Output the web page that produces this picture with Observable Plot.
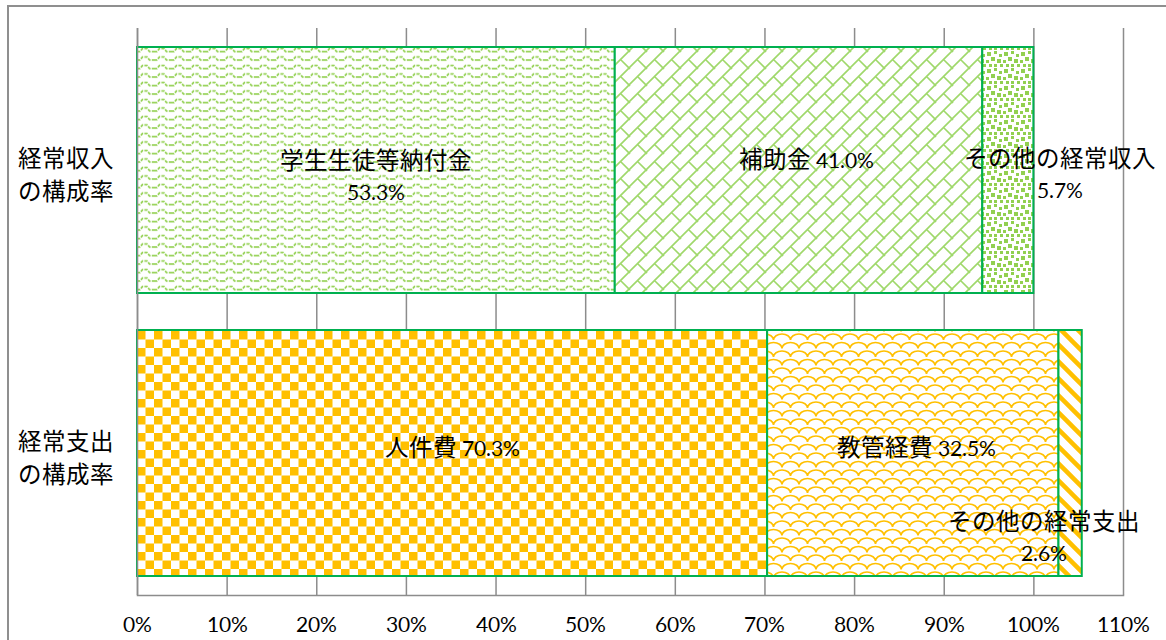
<!DOCTYPE html>
<html><head><meta charset="utf-8">
<script src="https://cdn.jsdelivr.net/npm/d3@7"></script>
<script src="https://cdn.jsdelivr.net/npm/@observablehq/plot@0.6"></script>
<style>
@font-face { font-family: "MixJP"; src: local("Lato Regular"), local("Lato-Regular"), local("Lato"); unicode-range: U+0000-00FF, U+2000-206F; }
@font-face { font-family: "MixJP"; src: local("Noto Sans CJK JP Regular"), local("NotoSansCJKjp-Regular"), local("Noto Sans CJK JP"); size-adjust: 112%; unicode-range: U+3000-9FFF, U+FF00-FFEF; }
html,body{margin:0;padding:0;background:#fff;}
#wrap{position:relative;width:1166px;height:640px;overflow:hidden;}
#border{position:absolute;left:7px;top:5px;width:1200px;height:700px;border:2px solid #8f8f8f;box-sizing:border-box;}
#chart{position:absolute;left:0;top:0;}
</style></head>
<body>
<svg width="0" height="0" style="position:absolute">
<defs>
  <pattern id="pWave" patternUnits="userSpaceOnUse" width="17" height="8.5" x="137" y="46">
    <rect width="17" height="8.5" fill="#fff"/>
    <path d="M0,5.5 H3 L5.5,2.5 H10 L12.5,5.5 H17" stroke="#92D050" stroke-width="1.7" stroke-dasharray="3.2 1.2" fill="none"/>
  </pattern>
  <pattern id="pBrick" patternUnits="userSpaceOnUse" width="17" height="17">
    <rect width="17" height="17" fill="#fff"/>
    <path d="M-2,19 L19,-2 M8.5,8.5 L17,17 M0,0 L1,1" stroke="#9fd86a" stroke-width="1.6" fill="none"/>
  </pattern>
  <pattern id="pConfetti" patternUnits="userSpaceOnUse" width="17" height="17">
    <rect width="17" height="17" fill="#fff"/>
    <g fill="#92D050">
      <rect x="1" y="1" width="4" height="4"/>
      <rect x="8" y="0" width="3" height="3"/>
      <rect x="13" y="3" width="3" height="3"/>
      <rect x="5" y="6" width="4" height="4"/>
      <rect x="0" y="9" width="3" height="3"/>
      <rect x="11" y="8" width="4" height="4"/>
      <rect x="3" y="13" width="3" height="3"/>
      <rect x="8" y="13" width="3" height="3"/>
      <rect x="14" y="13" width="3" height="3"/>
    </g>
  </pattern>
  <pattern id="pChecker" patternUnits="userSpaceOnUse" width="17" height="17" x="137" y="331">
    <rect width="17" height="17" fill="#fff"/>
    <rect x="0" y="0" width="8.5" height="8.5" fill="#FFC000"/>
    <rect x="8.5" y="8.5" width="8.5" height="8.5" fill="#FFC000"/>
  </pattern>
  <pattern id="pShingle" patternUnits="userSpaceOnUse" width="17" height="17">
    <rect width="17" height="17" fill="#fff"/>
    <path d="M0,8.5 A8.5,6 0 0 1 17,8.5 M-8.5,17 A8.5,6 0 0 1 8.5,17 M8.5,17 A8.5,6 0 0 1 25.5,17" stroke="#FFC000" stroke-width="1.6" fill="none"/>
  </pattern>
  <pattern id="pDiag" patternUnits="userSpaceOnUse" width="17" height="17">
    <rect width="17" height="17" fill="#fff"/>
    <path d="M-2,-2 L19,19 M-2,15 L2,19 M15,-2 L19,2" stroke="#FFC000" stroke-width="4.5" fill="none"/>
  </pattern>
</defs>
</svg>
<div id="wrap"><div id="border"></div><div id="chart"></div></div>
<script>
// ---- data ----
const categories = ["経常収入の構成率", "経常支出の構成率"];
const categoryLabels = ["経常収入\nの構成率", "経常支出\nの構成率"];
const incomeNames = ["学生生徒等納付金", "補助金", "その他の経常収入"];
const incomeValues = [53.3, 41.0, 5.7];
const expenseNames = ["人件費", "教管経費", "その他の経常支出"];
const expenseValues = [70.3, 32.5, 2.6];
const xTicks = [0, 10, 20, 30, 40, 50, 60, 70, 80, 90, 100, 110];

// ---- styles (kept apart from the data) ----
const incomeFills = ["url(#pWave)", "url(#pBrick)", "url(#pConfetti)"];
const expenseFills = ["url(#pChecker)", "url(#pShingle)", "url(#pDiag)"];
const incomeLabelStyle = [{sep: "\n", dx: 0, dy: 4}, {sep: " ", dx: 7, dy: -12.5}, {sep: "\n", dx: 52, dy: 2}];
const expenseLabelStyle = [{sep: " ", dx: 0, dy: -7.5}, {sep: " ", dx: 3, dy: -7.5}, {sep: "\n", dx: -27, dy: 82}];

function buildRows(cat, names, values, fills, styles) {
  let acc = 0;
  return names.map((n, i) => {
    const x1 = acc; acc += values[i];
    return {cat, name: n, value: values[i], x1, x2: acc, fill: fills[i], style: styles[i],
            label: n + styles[i].sep + values[i].toFixed(1) + "%"};
  });
}
const rows = [
  ...buildRows(categories[0], incomeNames, incomeValues, incomeFills, incomeLabelStyle),
  ...buildRows(categories[1], expenseNames, expenseValues, expenseFills, expenseLabelStyle)
];

const gridColor = "#8c8c8c";
const fs = 21;
const marks = [
  Plot.gridX(xTicks, {stroke: gridColor, strokeOpacity: 1, strokeWidth: 1.5}),
  Plot.frame({anchor: "bottom", stroke: gridColor, strokeWidth: 1.5}),
  ...rows.map(r => Plot.barX([r], {x1: "x1", x2: "x2", y: "cat", fill: r.fill, stroke: "#00B050", strokeWidth: 2})),
  Plot.ruleX([0], {stroke: gridColor, strokeWidth: 1.5}),
  ...rows.map(r => Plot.text([r], {x: d => (d.x1 + d.x2) / 2, y: "cat", text: "label", dx: r.style.dx, dy: r.style.dy,
      lineHeight: 1.5, fill: "#000", fontSize: fs})),
  Plot.text(categories, {y: d => d, text: (d, i) => categoryLabels[i], frameAnchor: "left", dx: -72, dy: 2,
      textAnchor: "middle", lineHeight: 1.57, fill: "#000", fontSize: fs}),
  Plot.axisX(xTicks, {tickSize: 0, tickPadding: 22, tickFormat: d => d + "%", fontSize: fs, fill: "#000", label: null})
];

const chart = Plot.plot({
  width: 1166, height: 640,
  marginLeft: 137, marginRight: 43, marginTop: 28, marginBottom: 45,
  x: {domain: [0, 110], axis: null},
  y: {domain: categories, paddingInner: 0.129, paddingOuter: 0.0645, axis: null},
  style: {fontFamily: "MixJP, Lato, 'Noto Sans CJK JP', sans-serif", fontSize: fs + "px", background: "transparent", overflow: "visible", color: "#000"},
  marks
});
document.getElementById("chart").appendChild(chart);
</script>
</body></html>
